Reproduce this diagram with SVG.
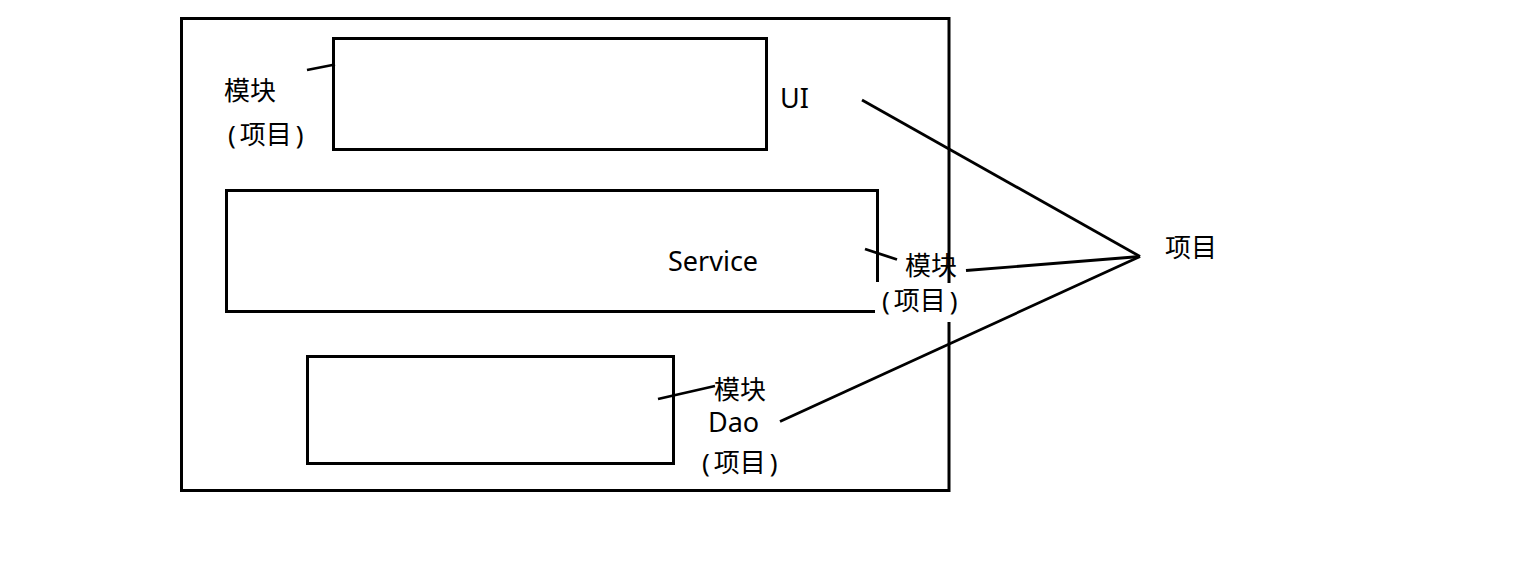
<svg xmlns="http://www.w3.org/2000/svg" width="1518" height="581" viewBox="0 0 1518 581">
<style>
.box{fill:none;stroke:#000;stroke-width:3}
.ln{fill:none;stroke:#000;stroke-width:2.8;stroke-linecap:butt}
.t{font-family:"Noto Sans","Noto Sans CJK SC",sans-serif;font-size:26px;fill:#000}
.bg{fill:#fff;stroke:none}
</style>
<rect width="1518" height="581" fill="#fff"/>
<g id="outer"><rect class="box" x="181.5" y="18.5" width="767.5" height="472"/></g>
<g id="ui"><rect class="box" x="333.5" y="38.5" width="433" height="111"/></g>
<g id="service"><path class="box" d="M875 311.5 H226.5 V190.5 H877.5 V282"/></g>
<g id="dao"><rect class="box" x="307.5" y="356.5" width="366" height="107"/></g>
<g id="connectors">
<line class="ln" x1="307" y1="70" x2="335" y2="64.5"/>
<line class="ln" x1="865" y1="249" x2="897" y2="259.5"/>
<line class="ln" x1="658" y1="399" x2="715" y2="386"/>
<line class="ln" x1="862" y1="100" x2="1140" y2="256.5"/>
<line class="ln" x1="966" y1="270.5" x2="1140" y2="256.5"/>
<line class="ln" x1="780" y1="421.5" x2="1140" y2="256.5"/>
</g>
<g id="labels">
<text class="t" x="224" y="100">模块</text>
<text class="t" x="228" y="144">(<tspan dx="4">项目</tspan><tspan dx="4">)</tspan></text>
<text class="t" x="780" y="108" style="font-size:27px">UI</text>
<text class="t" x="668" y="271" style="font-size:27px">Service</text>
<rect class="bg" x="878" y="283" width="86" height="39"/>
<text class="t" x="905" y="275">模块</text>
<text class="t" x="882" y="310">(<tspan dx="4">项目</tspan><tspan dx="4">)</tspan></text>
<text class="t" x="714" y="399">模块</text>
<text class="t" x="708" y="432" style="font-size:27px">Dao</text>
<text class="t" x="702" y="472">(<tspan dx="4">项目</tspan><tspan dx="4">)</tspan></text>
<text class="t" x="1165" y="257">项目</text>
</g>
</svg>
